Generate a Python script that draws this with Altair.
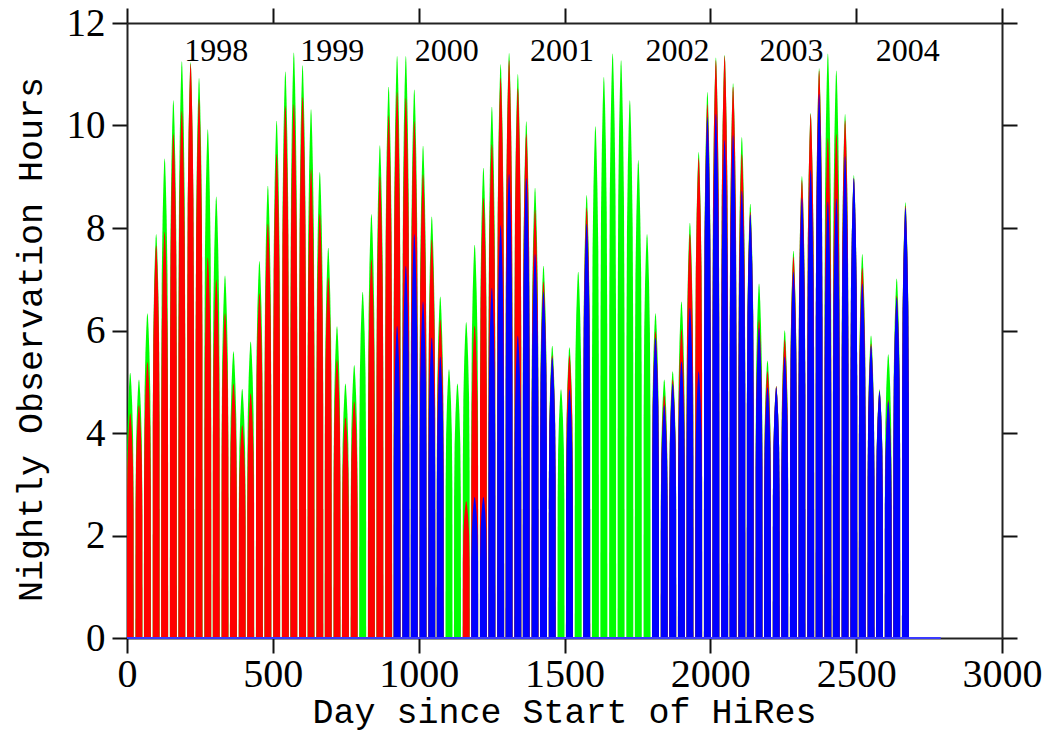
import altair as alt
import pandas as pd

# ---- data ----
# day (since start of HiRes) of each dark-time peak (new moon)
new_moon_day = [11, 41, 70, 100, 129, 159, 188, 218, 247, 277,
                306, 336, 365, 395, 424, 454, 483, 513, 543, 572,
                602, 631, 661, 690, 720, 749, 779, 808, 838, 867,
                897, 926, 956, 985, 1015, 1045, 1074, 1104, 1133, 1163,
                1192, 1222, 1251, 1281, 1310, 1340, 1369, 1399, 1428, 1458,
                1488, 1517, 1547, 1576, 1606, 1635, 1665, 1694, 1724, 1753,
                1783, 1812, 1842, 1871, 1901, 1930, 1960, 1990, 2019, 2049,
                2078, 2108, 2137, 2167, 2196, 2226, 2255, 2285, 2314, 2344,
                2373, 2403, 2432, 2462, 2492, 2521, 2551, 2580, 2610, 2639,
                2669]

# peak nightly hours per lunar cycle
green_hours = [5.17, 5.04, 6.33, 7.88, 9.35, 10.49, 11.25, 11.23, 10.92, 9.92,
               8.61, 7.07, 5.59, 4.86, 5.78, 7.35, 8.82, 10.09, 11.05, 11.42,
               11.17, 10.31, 9.09, 7.61, 6.08, 4.96, 5.32, 6.75, 8.27, 9.61,
               10.75, 11.35, 11.35, 10.70, 9.60, 8.22, 6.66, 5.24, 4.96, 6.16,
               7.67, 9.17, 10.36, 11.19, 11.41, 11.00, 10.08, 8.78, 7.26, 5.70,
               4.85, 5.67, 7.14, 8.64, 9.98, 10.94, 11.40, 11.27, 10.49, 9.32,
               7.88, 6.33, 5.04, 5.20, 6.56, 8.10, 9.48, 10.65, 11.32, 11.37,
               10.82, 9.77, 8.47, 6.91, 5.41, 4.91, 6.00, 7.55, 9.01, 10.24,
               11.11, 11.40, 11.07, 10.22, 9.03, 7.49, 5.90, 4.85, 5.53, 7.01,
               8.50]

red_hours = [4.38, 4.54, 5.38, 7.65, 7.92, 9.83, 10.28, 11.20, 10.51, 7.42,
             6.99, 6.33, 4.96, 4.15, 4.77, 6.72, 8.08, 9.44, 10.37, 10.41,
             10.55, 9.14, 8.27, 7.03, 5.43, 4.30, 4.61, 0, 7.38, 9.01,
             10.19, 10.65, 10.53, 10.08, 9.04, 7.77, 6.21, 0, 0, 2.67,
             6.09, 8.58, 9.63, 10.92, 11.27, 10.72, 9.83, 8.35, 6.95, 5.51,
             0, 5.51, 0, 8.39, 0, 0, 0, 0, 0, 0,
             0, 5.98, 4.73, 5.04, 6.02, 7.88, 9.36, 10.41, 11.27, 11.35,
             10.75, 9.44, 8.31, 6.21, 5.20, 4.91, 5.82, 7.44, 8.93, 10.22,
             11.07, 9.75, 9.83, 10.10, 8.97, 7.22, 5.74, 4.81, 4.65, 6.68,
             8.43]

blue_hours = [0, 0, 0, 0, 0, 0, 0, 0, 0, 0,
              0, 0, 0, 0, 0, 0, 0, 0, 0, 0,
              0, 0, 0, 0, 0, 0, 0, 0, 0, 0,
              0, 6.09, 7.26, 7.88, 6.56, 5.86, 5.49, 0, 0, 0,
              2.75, 2.75, 6.83, 8.05, 9.05, 5.90, 8.97, 7.49, 6.75, 5.47,
              0, 4.85, 0, 8.08, 0, 0, 0, 0, 0, 0,
              0, 5.86, 4.54, 4.96, 5.39, 6.44, 5.20, 10.16, 10.22, 9.71,
              9.81, 8.72, 8.26, 6.05, 4.89, 4.89, 5.49, 7.14, 8.58, 9.13,
              10.61, 8.51, 8.57, 9.40, 8.97, 6.91, 5.70, 4.81, 4.61, 6.64,
              8.39]

year_labels = ["1998", "1999", "2000", "2001", "2002", "2003", "2004"]
year_label_day = [306, 704, 1096, 1491, 1887, 2278, 2677]
year_label_hours = [11.45] * 7

baseline_day = [0, 2790]
baseline_hours = [0, 0]

x_ticks = [0, 500, 1000, 1500, 2000, 2500, 3000]
y_ticks = [0, 2, 4, 6, 8, 10, 12]

# ---- spike shape (style): offsets in days and fraction of the peak ----
profile_dx = [-12.0, -11.6, -9.8, -6.8, -4.0, -1.8, -0.6, 0.6, 1.8, 4.0, 6.8, 9.8, 11.6, 12.0]
profile_frac = [0, 0.55, 0.76, 0.88, 0.95, 0.99, 1, 1, 0.99, 0.95, 0.88, 0.76, 0.55, 0]

rows = []
for name, heights in (("green", green_hours), ("red", red_hours), ("blue", blue_hours)):
    for i, (c, h) in enumerate(zip(new_moon_day, heights)):
        if h <= 0:
            continue
        for dx, f in zip(profile_dx, profile_frac):
            rows.append({"series": name, "cycle": i, "day": c + dx, "hours": h * f})
spikes_df = pd.DataFrame(rows)

years_df = pd.DataFrame({"label": year_labels, "day": year_label_day, "hours": year_label_hours})
base_df = pd.DataFrame({"day": baseline_day, "hours": baseline_hours})

xscale = alt.Scale(domain=[0, 3000], nice=False, zero=False)
yscale = alt.Scale(domain=[0, 12], nice=False, zero=False)

common_axis = dict(tickSize=15, tickWidth=2, tickColor="#111", domainColor="#222",
                   domainWidth=2, grid=False, labelColor="black", titleColor="black")

bottom_axis = alt.Axis(orient="bottom", values=x_ticks, labelFont="Liberation Serif",
                       labelFontSize=40, labelPadding=1, labelFlush=False, labelOverlap=False,
                       format="d", title="Day since Start of HiRes", titleFont="Liberation Mono",
                       titleFontSize=35, titleFontWeight="normal", titleX=437, titleY=84,
                       titleBaseline="alphabetic", titleAlign="center", **common_axis)
left_axis = alt.Axis(orient="left", values=y_ticks, labelFont="Liberation Serif",
                     labelFontSize=39, labelPadding=7, format="d",
                     title="Nightly Observation Hours", titleFont="Liberation Mono",
                     titleFontSize=35, titleFontWeight="normal", titleX=-97, titleY=316,
                     titleAngle=270, titleBaseline="middle", titleAlign="center", **common_axis)
top_axis = alt.Axis(orient="top", values=x_ticks, labels=False, title=None, **common_axis)
right_axis = alt.Axis(orient="right", values=y_ticks, labels=False, title=None, **common_axis)


def spike_layer(name, color, xaxis=None, yaxis=None):
    return alt.Chart(spikes_df).transform_filter(alt.datum.series == name).mark_area(
        color=color, clip=True, opacity=1
    ).encode(
        x=alt.X("day:Q", scale=xscale, axis=xaxis),
        y=alt.Y("hours:Q", scale=yscale, stack=None, axis=yaxis),
        detail="cycle:N",
    )


green = spike_layer("green", "#00ff00", bottom_axis, left_axis)
red = spike_layer("red", "#ff0000")
blue = spike_layer("blue", "#0000ff")

base = alt.Chart(base_df).mark_line(color="#3a3aff", strokeWidth=2).encode(
    x=alt.X("day:Q", scale=xscale, axis=top_axis),
    y=alt.Y("hours:Q", scale=yscale, axis=right_axis),
)

years = alt.Chart(years_df).mark_text(
    font="Liberation Serif", fontSize=32, color="black", baseline="middle", align="center"
).encode(
    x=alt.X("day:Q", scale=xscale, axis=None),
    y=alt.Y("hours:Q", scale=yscale, axis=None),
    text="label:N",
)

chart = alt.layer(green, red, blue, base, years).resolve_axis(
    x="independent", y="independent"
).properties(
    width=875, height=615,
    padding={"left": 127, "top": 23, "right": 45, "bottom": 94},
    autosize=alt.AutoSizeParams(type="none"),
    background="white",
).configure_view(stroke="transparent")

chart.save("out.html", embed_options={"renderer": "svg", "actions": False})
